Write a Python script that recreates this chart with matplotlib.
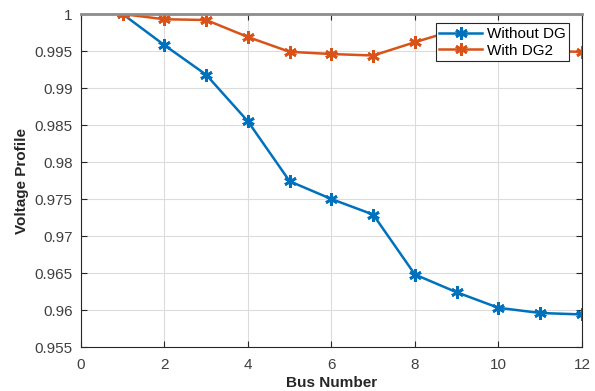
import matplotlib
matplotlib.use("Agg")
import matplotlib.pyplot as plt

bus = [1, 2, 3, 4, 5, 6, 7, 8, 9, 10, 11, 12]
without_dg = [1.0, 0.9958, 0.9918, 0.9855, 0.9774, 0.9750, 0.9729, 0.9648,
              0.9624, 0.9603, 0.9596, 0.9594]
with_dg2 = [1.0, 0.9993, 0.9992, 0.9969, 0.9949, 0.9946, 0.9944, 0.9962,
            0.9979, 0.9976, 0.9950, 0.9949]

plt.rcParams['font.family'] = ['Liberation Sans', 'DejaVu Sans']

fig = plt.figure(figsize=(5.95, 3.91), dpi=100)
ax = fig.add_axes([0.136, 0.1125, 0.842, 0.8515])

star = (6, 2, 0)  # MATLAB-like asterisk
ax.plot(bus, without_dg, color='#0072BD', linewidth=1.8, marker=star,
        markersize=9, markeredgewidth=2, label='Without DG')
ax.plot(bus, with_dg2, color='#D95319', linewidth=1.8, marker=star,
        markersize=9, markeredgewidth=2, label='With DG2')

ax.set_xlim(0, 12)
ax.set_ylim(0.955, 1.0)
ax.set_xticks(range(0, 13, 2))
ax.set_yticks([0.955, 0.96, 0.965, 0.97, 0.975, 0.98, 0.985, 0.99, 0.995, 1.0])
ax.set_yticklabels(['0.955', '0.96', '0.965', '0.97', '0.975', '0.98',
                    '0.985', '0.99', '0.995', '1'])
ax.grid(True, color='#dcdcdc', linewidth=0.8)
ax.tick_params(direction='in', top=True, right=True, labelsize=11,
               colors='#262626', labelcolor='#404040', length=4, pad=6)
ax.tick_params(axis='x', pad=8)
for s in ax.spines.values():
    s.set_color('#262626')
    s.set_linewidth(0.8)
ax.spines['top'].set_color('#8c8c8c')
ax.spines['top'].set_linewidth(2)

ax.set_xlabel('Bus Number', fontsize=11, fontweight='bold', color='#262626',
              labelpad=3)
ax.set_ylabel('Voltage Profile', fontsize=11, fontweight='bold', color='#262626',
              labelpad=4)

leg = ax.legend(loc='upper right', bbox_to_anchor=(0.975, 0.972), fontsize=11,
                fancybox=False, framealpha=1, edgecolor='#262626',
                borderpad=0.25, handlelength=2.8, labelspacing=0.15,
                handletextpad=0.3, borderaxespad=0)
leg.get_frame().set_linewidth(0.8)
leg.set_zorder(5)

fig.savefig('out.png', dpi=100)
